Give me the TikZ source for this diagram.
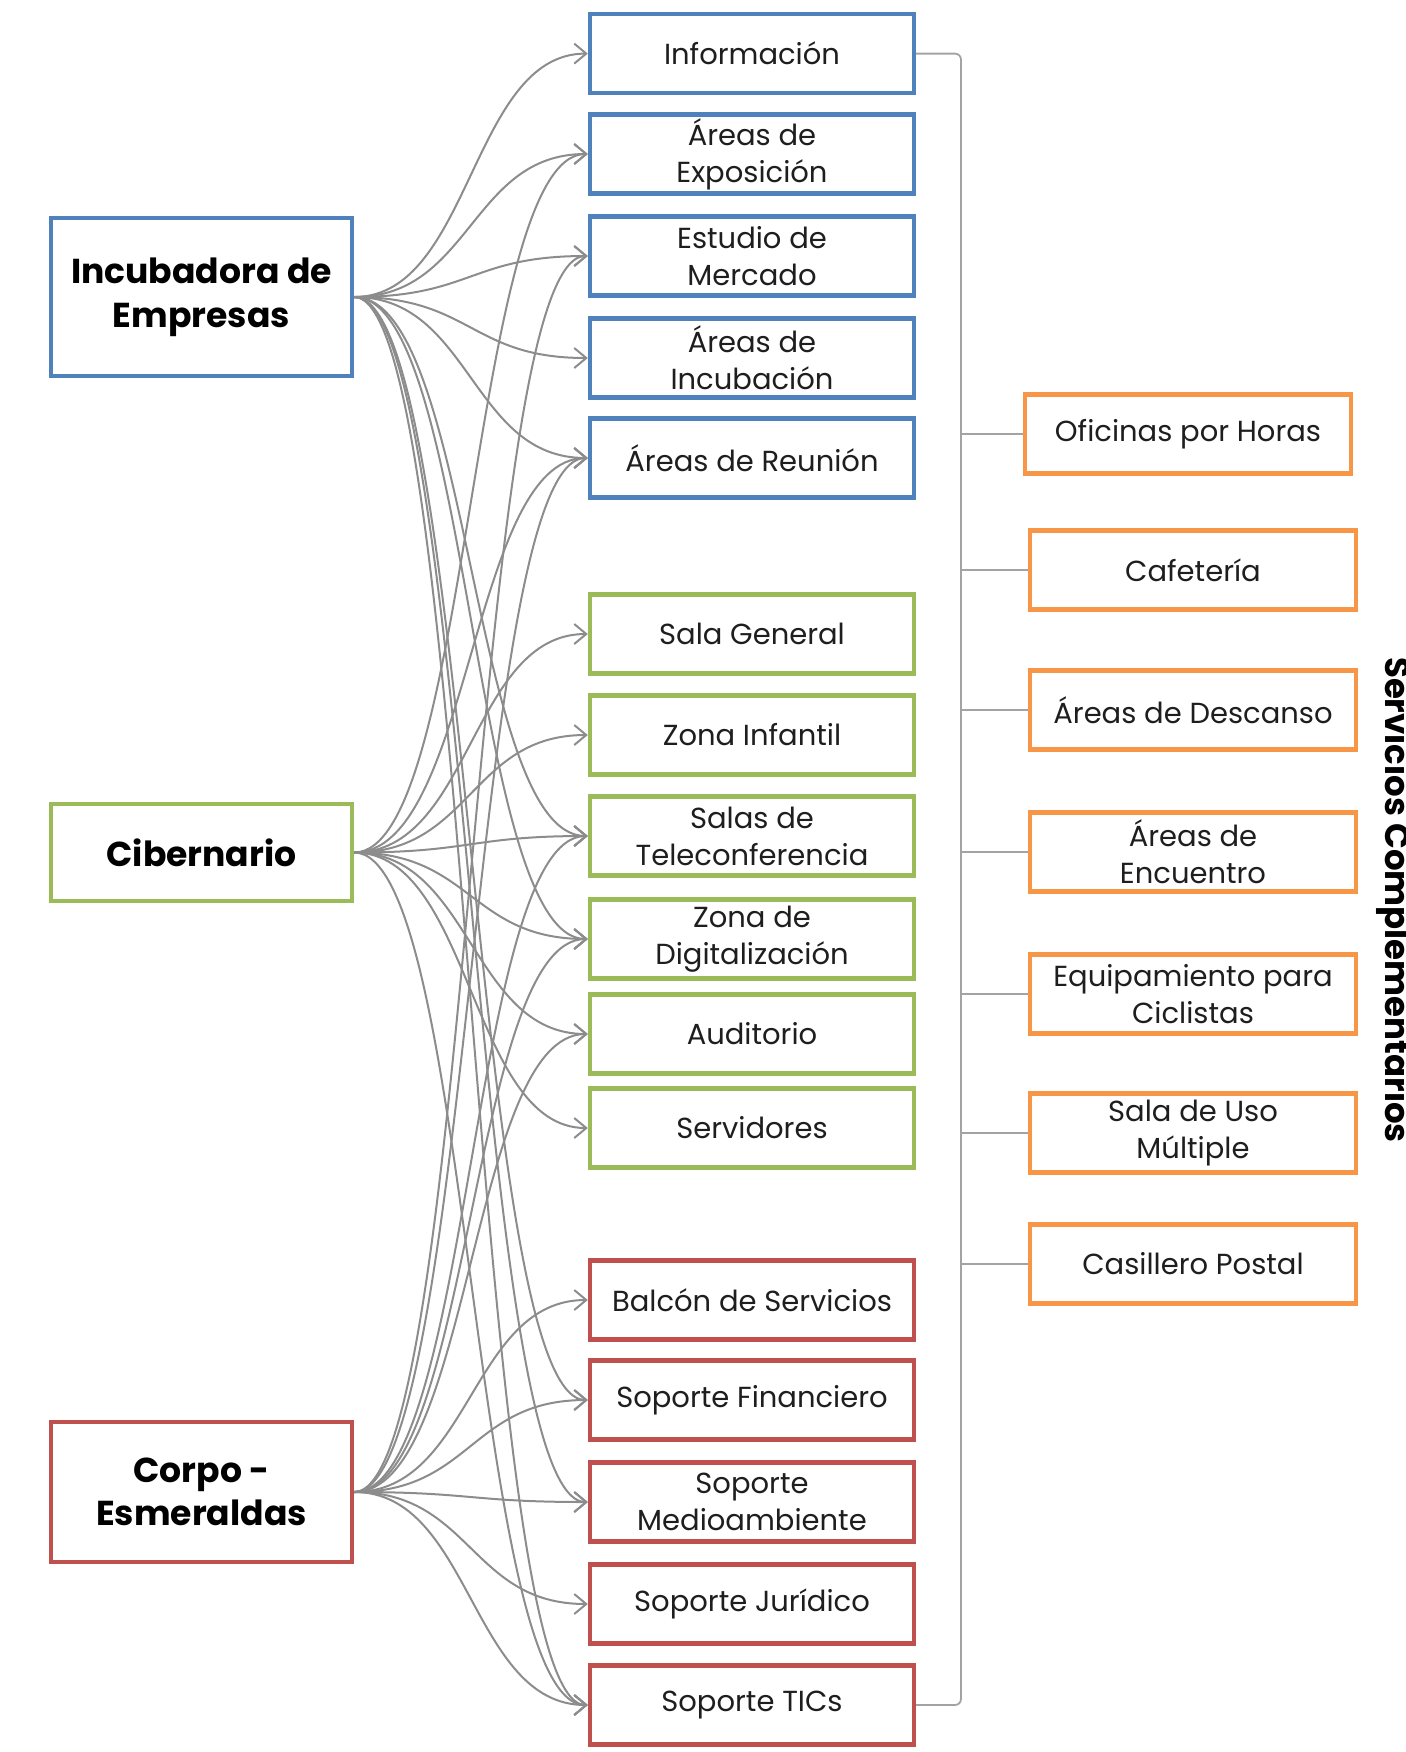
\documentclass[tikz,border=0pt]{standalone}
\usepackage{fontspec}
\setmainfont{Poppins}
\usetikzlibrary{arrows.meta}
\definecolor{cblue}{RGB}{79,129,189}
\definecolor{cgreen}{RGB}{155,187,89}
\definecolor{cred}{RGB}{192,80,77}
\definecolor{corange}{RGB}{247,150,70}
\definecolor{cline}{RGB}{140,140,140}
\definecolor{ctext}{RGB}{30,30,30}
\begin{document}
\begin{tikzpicture}[x=0.5pt,y=-0.5pt,
  box/.style={draw, line width=2.2pt, fill=white, align=center, inner sep=0pt, text=ctext,
    font=\fontsize{14.5}{18.5}\selectfont},
  midbox/.style={box, minimum width=162pt, minimum height=39.5pt},
  rbox/.style={box, draw=corange, minimum width=163pt, minimum height=39.5pt},
  srcbox/.style={box, minimum width=150.5pt, text=black, font=\bfseries\fontsize{17.3}{21.8}\selectfont},
  conn/.style={draw=cline, line width=1pt, -{Straight Barb[length=6pt,width=10pt]}},
  bracket/.style={draw=cline!80, line width=0.9pt, rounded corners=3pt}]
\useasboundingbox (0,0) rectangle (1406,1752);

% sources
\node[srcbox, draw=cblue, minimum height=79pt] (inc) at (201.5,297) {Incubadora de\\Empresas};
\node[srcbox, draw=cgreen, minimum height=48.5pt] (cib) at (201.5,852.5) {Cibernario};
\node[srcbox, draw=cred, minimum height=70pt] (cor) at (201.5,1492) {Corpo -\\Esmeraldas};

% middle column
\node[midbox, draw=cblue] (info) at (752,53.6) {Información};
\node[midbox, draw=cblue] (expo) at (752,154) {Áreas de\\Exposición};
\node[midbox, draw=cblue] (estu) at (752,256) {Estudio de\\Mercado};
\node[midbox, draw=cblue] (incu) at (752,358) {Áreas de\\Incubación};
\node[midbox, draw=cblue] (reun) at (752,458) {Áreas de Reunión};
\node[midbox, draw=cgreen] (salg) at (752,634) {Sala General};
\node[midbox, draw=cgreen] (zinf) at (752,735) {Zona Infantil};
\node[midbox, draw=cgreen] (tele) at (752,836) {Salas de\\Teleconferencia};
\node[midbox, draw=cgreen] (digi) at (752,939) {Zona de\\Digitalización};
\node[midbox, draw=cgreen] (audi) at (752,1034) {Auditorio};
\node[midbox, draw=cgreen] (serv) at (752,1128) {Servidores};
\node[midbox, draw=cred] (balc) at (752,1300) {Balcón de Servicios};
\node[midbox, draw=cred] (fina) at (752,1400) {Soporte Financiero};
\node[midbox, draw=cred] (medi) at (752,1502) {Soporte\\Medioambiente};
\node[midbox, draw=cred] (juri) at (752,1604) {Soporte Jurídico};
\node[midbox, draw=cred] (tics) at (752,1705) {Soporte TICs};

% right column
\node[rbox] (ofic) at (1188,434) {Oficinas por Horas};
\node[rbox] (cafe) at (1193,570) {Cafetería};
\node[rbox] (desc) at (1193,710) {Áreas de Descanso};
\node[rbox] (encu) at (1193,852) {Áreas de\\Encuentro};
\node[rbox] (equi) at (1193,994) {Equipamiento para\\Ciclistas};
\node[rbox] (salu) at (1193,1133) {Sala de Uso\\Múltiple};
\node[rbox] (casi) at (1193,1264) {Casillero Postal};

% vertical title (cut at the right edge, as in the reference)
\node[rotate=-90, anchor=base, inner sep=0pt, font=\bfseries\fontsize{17}{20}\selectfont] (titl) at (1385,900) {Servicios Complementarios};

% bracket
\coordinate (btop) at (961,53.6);
\coordinate (bbot) at (961,1705);
\draw[bracket] (info.east) -- (btop) -- (bbot) -- (tics.east);
\foreach \r in {ofic,cafe,desc,encu,equi,salu,casi}
  \draw[bracket] (\r.west -| btop) -- (\r.west);

% connectors
\foreach \s/\t in {inc/info,inc/expo,inc/estu,inc/incu,inc/reun,inc/tele,inc/digi,inc/fina,inc/medi,inc/tics,
  cib/expo,cib/reun,cib/salg,cib/zinf,cib/tele,cib/digi,cib/audi,cib/serv,cib/tics,
  cor/estu,cor/reun,cor/tele,cor/digi,cor/audi,cor/balc,cor/fina,cor/medi,cor/juri,cor/tics}
  \draw[conn] (\s.east) .. controls +(117,0) and +(-117,0) .. (\t.west);
\end{tikzpicture}
\end{document}
